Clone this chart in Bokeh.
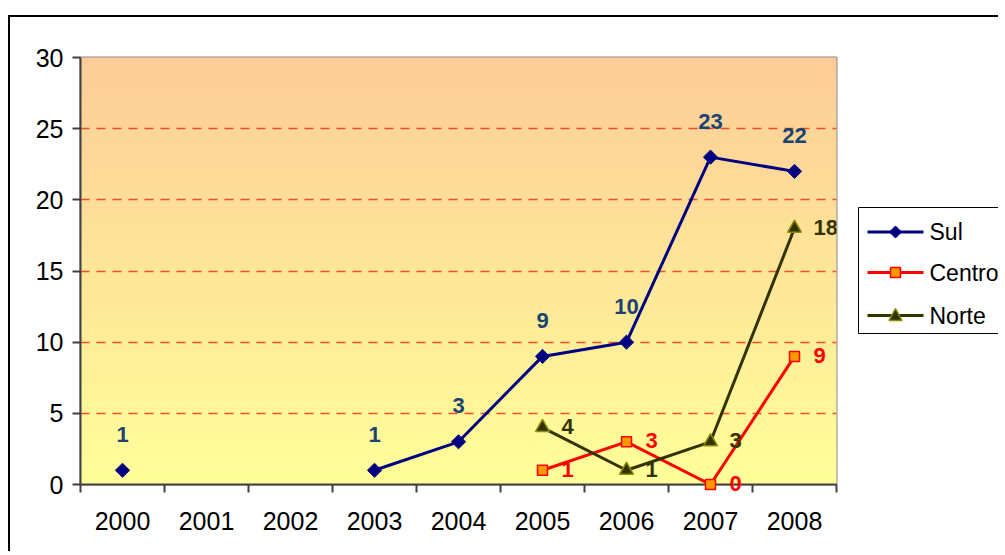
import math
from bokeh.plotting import figure
from bokeh.models import ColumnDataSource, FixedTicker
from bokeh.embed import file_html
from bokeh.resources import INLINE
from bokeh.core.properties import value

# ---- data ----
years = ["2000", "2001", "2002", "2003", "2004", "2005", "2006", "2007", "2008"]
sul = [1, None, None, 1, 3, 9, 10, 23, 22]
centro = [None, None, None, None, None, 1, 3, 0, 9]
norte = [None, None, None, None, None, 4, 1, 3, 18]
series_names = ["Sul", "Centro", "Norte"]
y_ticks = [0, 5, 10, 15, 20, 25, 30]
grid_ticks = [5, 10, 15, 20, 25]

FONT = "Liberation Sans"
SUL_C = "#000080"
SUL_LBL = "#1A4372"
CEN_C = "#FF0000"
CEN_FILL = "#FF9900"
NOR_C = "#333300"
NOR_EDGE = "#8C8C00"

# layout (pixels)
W, H = 990, 536
BL, BT, FW, FH = 70, 40, 756, 427
Y0, Y1 = 0, 30
X0, X1 = -0.5, len(years) - 0.5

x = list(range(len(years)))


def clean(vals):
    return [float("nan") if v is None else v for v in vals]


def pts(vals):
    xs, ys, ts = [], [], []
    for i, v in enumerate(vals):
        if v is not None:
            xs.append(i)
            ys.append(v)
            ts.append(str(v))
    return ColumnDataSource(dict(x=xs, y=ys, t=ts))


def px_x(dx):  # horizontal offset from frame left (px) -> data x
    return X0 + dx * (X1 - X0) / FW


def px_y(dy):  # offset from frame top (px) -> data y
    return Y1 - dy * (Y1 - Y0) / FH


def poly(cx, cy, offs):  # polygon around a pixel centre, offsets in px
    return [px_x(cx + ox) for ox, oy in offs], [px_y(cy + oy) for ox, oy in offs]


p = figure(width=W, height=H, x_range=(X0, X1), y_range=(Y0, Y1),
           output_backend="svg", toolbar_location=None,
           min_border_left=BL, min_border_right=W - BL - FW,
           min_border_top=BT, min_border_bottom=H - BT - FH)
p.styles = {"margin-left": "8px", "margin-top": "15px",
            "border-left": "2px solid black", "border-top": "2px solid black"}
p.background_fill_color = "#FFFF99"
p.border_fill_color = "white"
p.outline_line_color = "#8C8C8C"
p.outline_line_width = 2

# gradient background (style only)
nb = 60
top_rgb = (253, 204, 152)
bot_rgb = (255, 255, 153)
bb, tt, cc = [], [], []
for k in range(nb):
    f = (k + 0.5) / nb
    r = round(bot_rgb[0] + (top_rgb[0] - bot_rgb[0]) * f)
    g = round(bot_rgb[1] + (top_rgb[1] - bot_rgb[1]) * f)
    b = round(bot_rgb[2] + (top_rgb[2] - bot_rgb[2]) * f)
    bb.append(Y1 * k / nb)
    tt.append(Y1 * (k + 1) / nb)
    cc.append("#%02X%02X%02X" % (r, g, b))
p.quad(left=X0, right=X1, bottom=bb, top=tt, fill_color=cc,
       line_color=cc, line_width=0.6, level="image")

# axes
p.xaxis.ticker = FixedTicker(ticks=x, minor_ticks=[i - 0.5 for i in range(len(years) + 1)])
p.xaxis.major_label_overrides = {i: yr for i, yr in enumerate(years)}
p.xaxis.major_tick_out = 0
p.xaxis.major_tick_in = 0
p.xaxis.minor_tick_out = 8
p.xaxis.minor_tick_in = 0
p.xaxis.minor_tick_line_color = "#404040"
p.xaxis.minor_tick_line_width = 2
p.xaxis.major_label_standoff = 19
p.yaxis.ticker = FixedTicker(ticks=y_ticks)
p.yaxis.major_tick_out = 8
p.yaxis.major_tick_in = 0
p.yaxis.major_label_standoff = 9
for ax in (p.xaxis, p.yaxis):
    ax.axis_line_color = "#404040"
    ax.axis_line_width = 2
    ax.major_tick_line_color = "#404040"
    ax.major_tick_line_width = 2
    ax.major_label_text_font = FONT
    ax.major_label_text_font_size = "25px"
    ax.major_label_text_color = "black"

p.xgrid.visible = False
p.ygrid.ticker = FixedTicker(ticks=grid_ticks)
p.ygrid.grid_line_color = "#F84A2A"
p.ygrid.grid_line_dash = "9 7"
p.ygrid.grid_line_width = 1.5

# series
p.line(x, clean(sul), line_color=SUL_C, line_width=3)
sul_src = pts(sul)
p.scatter("x", "y", source=sul_src, marker="square", angle=math.pi / 4, size=10,
          fill_color=SUL_C, line_color=SUL_C)

p.line(x, clean(centro), line_color=CEN_C, line_width=3)
cen_src = pts(centro)
p.scatter("x", "y", source=cen_src, marker="square", size=10,
          fill_color=CEN_FILL, line_color=CEN_C, line_width=1.5, level="overlay")

p.line(x, clean(norte), line_color=NOR_C, line_width=3)
nor_src = pts(norte)
p.scatter("x", "y", source=nor_src, marker="triangle", size=14,
          fill_color=NOR_C, line_color=NOR_EDGE, line_width=1.5)

# data labels
p.text("x", "y", text="t", source=sul_src, text_font=value(FONT), text_font_style="bold",
       text_font_size="22px", text_color=SUL_LBL, text_align="center",
       text_baseline="middle", y_offset=-36)
p.text("x", "y", text="t", source=cen_src, text_font=value(FONT), text_font_style="bold",
       text_font_size="22px", text_color=CEN_C, text_align="left",
       text_baseline="middle", x_offset=19, y_offset=-1, level="overlay")
p.text("x", "y", text="t", source=nor_src, text_font=value(FONT), text_font_style="bold",
       text_font_size="22px", text_color=NOR_C, text_align="left",
       text_baseline="middle", x_offset=19, y_offset=-1)

# legend (outside plot area, drawn at overlay level)
p.quad(left=[px_x(778)], right=[px_x(1000)], top=[px_y(150)], bottom=[px_y(276)],
       fill_color="white", line_color="black", line_width=1, level="overlay")
row_py = [174.5, 215, 258]
row_y = [px_y(v) for v in row_py]
key_x0, key_x1, key_xm, key_tx = 787, 843, 815, 849
key_colors = [SUL_C, CEN_C, NOR_C]
p.segment(x0=[px_x(key_x0)] * 3, x1=[px_x(key_x1)] * 3, y0=row_y, y1=row_y,
          line_color=key_colors, line_width=3, level="overlay")
dx, dy = poly(key_xm, row_py[0], [(0, -6), (6, 0), (0, 6), (-6, 0)])
p.patch(dx, dy, fill_color=SUL_C, line_color=SUL_C, line_width=1, level="overlay")
sx, sy = poly(key_xm, row_py[1], [(-5, -5), (5, -5), (5, 5), (-5, 5)])
p.patch(sx, sy, fill_color=CEN_FILL, line_color=CEN_C, line_width=1.5, level="overlay")
tx, ty = poly(key_xm, row_py[2], [(0, -7), (6.5, 5), (-6.5, 5)])
p.patch(tx, ty, fill_color=NOR_C, line_color=NOR_EDGE, line_width=1.5, level="overlay")
p.text(x=[px_x(key_tx)] * 3, y=row_y, text=series_names, text_font=value(FONT),
       text_font_size="23px", text_color="black", text_align="left",
       text_baseline="middle", level="overlay")

open("out.html", "w").write(file_html(p, INLINE))
